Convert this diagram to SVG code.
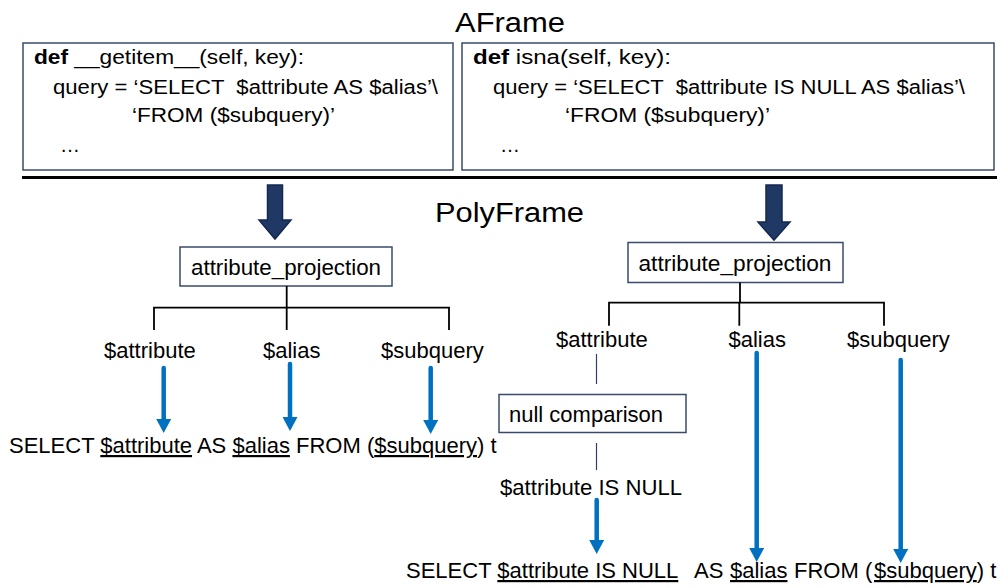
<svg xmlns="http://www.w3.org/2000/svg" width="1004" height="588" viewBox="0 0 1004 588">
<defs>
<style>
text{font-family:"Liberation Sans",Arial,sans-serif;fill:#000}
.title{font-size:27px}
.code{font-size:20px}
.lbl{font-size:22px}
.box{fill:#fff;stroke:#3B4A6B;stroke-width:1.5}
.tree{stroke:#000;stroke-width:1.8;fill:none}
.thin{stroke:#2F3F6F;stroke-width:1.2;fill:none}
.blue{stroke:#0070C0;stroke-width:4.5;stroke-linecap:round;fill:none;marker-end:url(#bh)}
.big{fill:#203864;stroke:#142850;stroke-width:1.5}
.u{text-decoration:underline}
</style>
<marker id="bh" viewBox="0 0 14 15" refX="0" refY="7.5" markerWidth="14" markerHeight="15" markerUnits="userSpaceOnUse" orient="auto">
<path d="M0,0 L14,7.5 L0,15 Z" fill="#0070C0"/>
</marker>
</defs>
<rect width="1004" height="588" fill="#fff"/>

<g id="title-aframe"><text class="title" x="455" y="32" textLength="110" lengthAdjust="spacingAndGlyphs">AFrame</text></g>

<g id="code-getitem">
<rect class="box" x="23" y="43" width="430" height="127"/>
<text class="code" x="34" y="64" textLength="270" lengthAdjust="spacingAndGlyphs"><tspan font-weight="bold">def</tspan> __getitem__(self, key):</text>
<text class="code" x="53" y="94" textLength="385" lengthAdjust="spacingAndGlyphs" xml:space="preserve">query = ‘SELECT  $attribute AS $alias’\</text>
<text class="code" x="132" y="122" textLength="203" lengthAdjust="spacingAndGlyphs">‘FROM ($subquery)’</text>
<text class="code" x="60" y="152" textLength="20" lengthAdjust="spacingAndGlyphs">…</text>
</g>

<g id="code-isna">
<rect class="box" x="462" y="43" width="532" height="127"/>
<text class="code" x="473" y="64" textLength="198" lengthAdjust="spacingAndGlyphs"><tspan font-weight="bold">def</tspan> isna(self, key):</text>
<text class="code" x="493" y="94" textLength="472" lengthAdjust="spacingAndGlyphs" xml:space="preserve">query = ‘SELECT  $attribute IS NULL AS $alias’\</text>
<text class="code" x="565" y="122" textLength="205" lengthAdjust="spacingAndGlyphs">‘FROM ($subquery)’</text>
<text class="code" x="500" y="152" textLength="20" lengthAdjust="spacingAndGlyphs">…</text>
</g>

<g id="divider"><line x1="22" y1="177.5" x2="997" y2="177.5" stroke="#000" stroke-width="3"/></g>

<g id="title-polyframe"><text class="title" x="435" y="222" font-size="26" textLength="149" lengthAdjust="spacingAndGlyphs">PolyFrame</text></g>

<g id="left-projection">
<rect class="box" x="180" y="247" width="212" height="39"/>
<text class="lbl" x="191" y="275" textLength="190" lengthAdjust="spacingAndGlyphs">attribute_projection</text>
</g>
<g id="left-attribute"><text class="lbl" x="104" y="358">$attribute</text></g>
<g id="left-alias"><text class="lbl" x="263" y="358">$alias</text></g>
<g id="left-subquery"><text class="lbl" x="381" y="358">$subquery</text></g>
<g id="left-result"><text class="lbl" x="9" y="453">SELECT <tspan class="u">$attribute</tspan> AS <tspan class="u">$alias</tspan> FROM (<tspan class="u">$subquery</tspan>) t</text></g>

<g id="right-projection">
<rect class="box" x="628" y="242.5" width="215" height="40"/>
<text class="lbl" x="638.5" y="271" textLength="193" lengthAdjust="spacingAndGlyphs">attribute_projection</text>
</g>
<g id="right-attribute"><text class="lbl" x="556" y="347">$attribute</text></g>
<g id="right-alias"><text class="lbl" x="728.5" y="347">$alias</text></g>
<g id="right-subquery"><text class="lbl" x="847" y="347">$subquery</text></g>
<g id="null-comparison">
<rect class="box" x="499" y="394.5" width="187" height="38"/>
<text class="lbl" x="509" y="422">null comparison</text>
</g>
<g id="is-null"><text class="lbl" x="500" y="495" textLength="182" lengthAdjust="spacingAndGlyphs">$attribute IS NULL</text></g>
<g id="right-result"><text class="lbl" x="406" y="578">SELECT <tspan class="u">$attribute IS NULL</tspan><tspan x="694">AS </tspan><tspan class="u" x="730">$alias</tspan><tspan x="794">FROM (</tspan><tspan class="u" x="874">$subquery</tspan>) t</text></g>

<g id="connectors">
<path class="big" d="M267.5,185 H282.5 V220 H291 L275,239 L259,220 H267.5 Z"/>
<path class="big" d="M766,185 H782 V222 H790 L774,240 L758,222 H766 Z"/>
<path class="tree" d="M286.7,286 V307.7 M154,330 V307.7 H449 V330 M286.7,307.7 V330"/>
<path class="tree" d="M740,282.5 V302.7" stroke-width="3"/>
<path class="tree" d="M609,325.7 V302.7 H884 V325.7 M739.3,302.7 V325.7"/>
<line class="thin" x1="596.5" y1="354" x2="596.5" y2="384"/>
<line class="thin" x1="596.5" y1="443" x2="596.5" y2="470"/>
<line class="blue" x1="163.7" y1="368" x2="163.7" y2="419"/>
<line class="blue" x1="290" y1="364" x2="290" y2="417"/>
<line class="blue" x1="430.7" y1="368" x2="430.7" y2="420"/>
<line class="blue" x1="596.7" y1="500" x2="596.7" y2="540"/>
<line class="blue" x1="756.7" y1="353" x2="756.7" y2="548"/>
<line class="blue" x1="900.7" y1="360" x2="900.7" y2="549"/>
</g>
</svg>
